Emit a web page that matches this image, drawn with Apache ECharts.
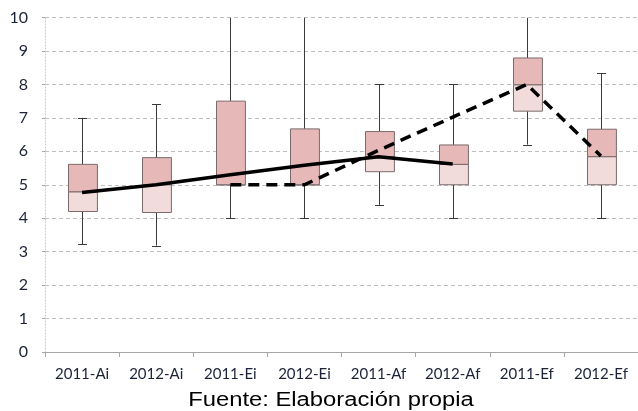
<!DOCTYPE html>
<html>
<head>
<meta charset="utf-8">
<script src="https://cdn.jsdelivr.net/npm/echarts@6/dist/echarts.min.js"></script>
<style>
html,body{margin:0;padding:0;background:#fff;}
#c{width:638px;height:411px;}
</style>
</head>
<body>
<div id="c"></div>
<script>
var categories = ['2011-Ai','2012-Ai','2011-Ei','2012-Ei','2011-Af','2012-Af','2011-Ef','2012-Ef'];
var minVals    = [3.22, 3.18, 4.0, 4.0, 4.4, 4.0, 6.2, 4.0];
var q1Vals     = [4.2, 4.17, 5.0, 5.0, 5.39, 5.0, 7.2, 5.0];
var medianVals = [4.79, 5.0, 5.0, 5.0, 5.84, 5.61, 7.99, 5.84];
var q3Vals     = [5.61, 5.81, 7.5, 6.67, 6.59, 6.19, 8.79, 6.66];
var maxVals    = [7.0, 7.4, 10, 10, 8.0, 8.0, 10, 8.33];
var solidLine  = [4.77, 5.0, 5.3, 5.58, 5.84, 5.62, '-', '-'];
var dashedLine = ['-', '-', 5.0, 5.0, 6.03, 7.02, 8.0, 5.86];
var yTicks     = [0,1,2,3,4,5,6,7,8,9,10];
var caption    = 'Fuente: Elaboración propia';

var boxData = categories.map(function(c,i){
  return [i, minVals[i], q1Vals[i], medianVals[i], q3Vals[i], maxVals[i]];
});

var chart = echarts.init(document.getElementById('c'));
var yMax = yTicks[yTicks.length-1];

function renderBox(params, api){
  var i = api.value(0);
  var mn = api.value(1), q1 = api.value(2), md = api.value(3), q3 = api.value(4), mx = api.value(5);
  var bw = api.size([1,0])[0]*0.39;
  var cw = 9;
  var pMin = api.coord([i,mn]), pQ1 = api.coord([i,q1]), pMd = api.coord([i,md]), pQ3 = api.coord([i,q3]), pMax = api.coord([i,mx]);
  var x = Math.round(pQ1[0]) + 0.5;
  var left = Math.round(x - bw/2) + 0.5;
  var lineStyle = {stroke:'#3a3a3a', lineWidth:1, fill:null};
  var children = [
    {type:'line', shape:{x1:x,y1:pQ3[1],x2:x,y2:pMax[1]}, style:lineStyle},
    {type:'line', shape:{x1:x,y1:pQ1[1],x2:x,y2:pMin[1]}, style:lineStyle},
    {type:'line', shape:{x1:x-cw/2,y1:Math.round(pMin[1])+0.5,x2:x+cw/2,y2:Math.round(pMin[1])+0.5}, style:lineStyle}
  ];
  if (mx < yMax) {
    children.push({type:'line', shape:{x1:x-cw/2,y1:Math.round(pMax[1])+0.5,x2:x+cw/2,y2:Math.round(pMax[1])+0.5}, style:lineStyle});
  }
  children.push({type:'rect', shape:{x:left, y:pMd[1], width:bw, height:pQ1[1]-pMd[1]}, style:{fill:'#F2DCDB', stroke:'#7a6a6a', lineWidth:1}});
  children.push({type:'rect', shape:{x:left, y:pQ3[1], width:bw, height:pMd[1]-pQ3[1]}, style:{fill:'#E6B9B8', stroke:'#7a6a6a', lineWidth:1}});
  return {type:'group', children:children};
}

chart.setOption({
  animation:false,
  backgroundColor:'#ffffff',
  grid:{left:45, right:-7, top:17.5, bottom:59, containLabel:false},
  graphic:[{
    type:'text', x:331, y:411, scaleX:1.22, silent:true,
    style:{text:caption, x:0, y:0, textAlign:'center', textVerticalAlign:'bottom',
      fontFamily:'Liberation Sans, Arial', fontSize:19.5, fill:'#000'}
  }],
  xAxis:{type:'category', data:categories, boundaryGap:true,
    axisLine:{show:true, lineStyle:{color:'#a6a6a6', width:1}},
    axisTick:{show:true, length:5, lineStyle:{color:'#a6a6a6'}},
    axisLabel:{interval:0, hideOverlap:false, fontFamily:'Lato, Open Sans, sans-serif', fontSize:15, color:'#1c2238', margin:15},
    splitLine:{show:false}
  },
  yAxis:{type:'value', min:0, max:10, interval:1,
    axisLine:{show:true, lineStyle:{color:'#c8c8c8', type:[1,2]}},
    axisTick:{show:true, length:3, lineStyle:{color:'#a6a6a6'}},
    axisLabel:{fontFamily:'Lato, Open Sans, sans-serif', fontSize:16, color:'#1c2238', margin:17},
    splitLine:{show:true, lineStyle:{color:'#bfbfbf', type:[4,3], width:1}}
  },
  series:[
    {type:'custom', renderItem:renderBox, data:boxData, encode:{x:0, y:[1,2,3,4,5]}, z:2, clip:true},
    {type:'line', data:solidLine, symbol:'none', z:3, connectNulls:false,
      lineStyle:{color:'#000', width:3.5, cap:'butt'}},
    {type:'line', data:dashedLine, symbol:'none', z:3,
      lineStyle:{color:'#000', width:3.5, type:[11,7], cap:'butt'}}
  ]
});
</script>
</body>
</html>
